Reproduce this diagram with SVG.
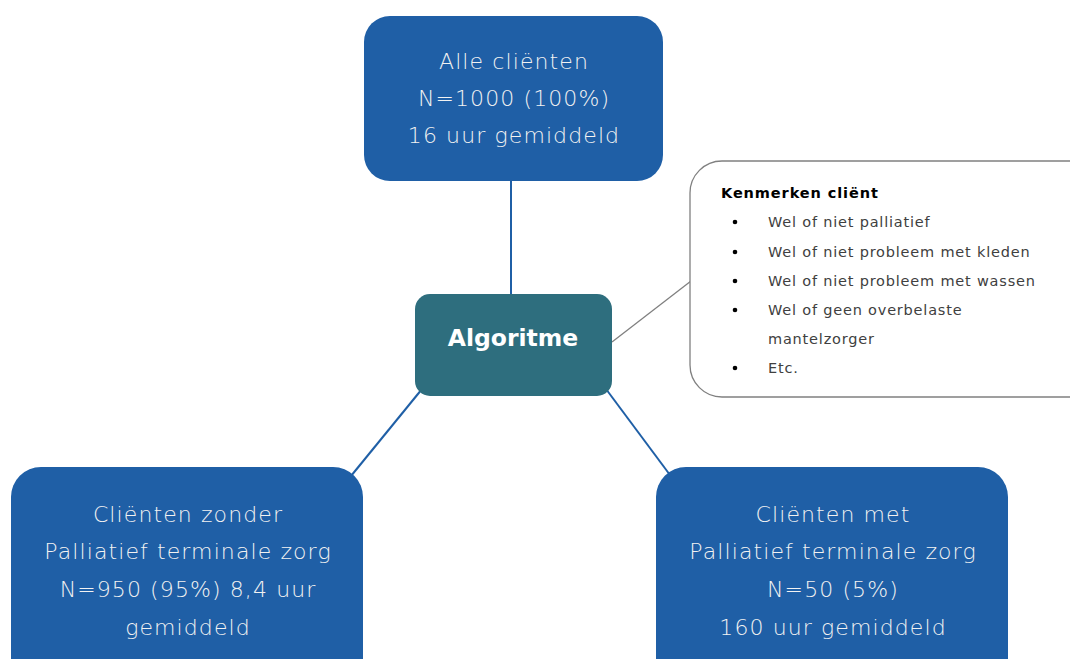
<svg xmlns="http://www.w3.org/2000/svg" width="1070" height="659" viewBox="0 0 1070 659">
<style>
.box{fill:#1F5FA6;}
.alg{fill:#2E6E7E;}
.t{font-family:"DejaVu Sans",Verdana,sans-serif;font-weight:200;font-size:22px;letter-spacing:1.1px;fill:#F2F2F2;text-anchor:middle;}
.tb{font-family:"DejaVu Sans",Verdana,sans-serif;font-weight:bold;font-size:23.5px;fill:#FFFFFF;text-anchor:middle;}
.conn{stroke:#1F5FA6;stroke-width:2;fill:none;}
.call{fill:#FFFFFF;stroke:#808080;stroke-width:1.3;}
.ch{font-family:"DejaVu Sans",Verdana,sans-serif;font-weight:bold;font-size:14.5px;letter-spacing:0.9px;fill:#000000;}
.cl{font-family:"DejaVu Sans",Verdana,sans-serif;font-size:14.5px;letter-spacing:0.8px;fill:#404040;}
</style>
<rect width="1070" height="659" fill="#FFFFFF"/>
<g id="connectors">
<line class="conn" x1="511" y1="181" x2="511" y2="295"/>
<line class="conn" x1="422" y1="389" x2="351" y2="476"/>
<line class="conn" x1="606" y1="389" x2="670" y2="475"/>
<line x1="612" y1="342" x2="691" y2="281" stroke="#808080" stroke-width="1.3"/>
</g>
<g id="node-alle">
<rect class="box" x="364" y="16" width="299" height="165" rx="26"/>
<text class="t" x="514" y="69">Alle cliënten</text>
<text class="t" x="514" y="106">N=1000 (100%)</text>
<text class="t" x="514" y="143">16 uur gemiddeld</text>
</g>
<g id="node-algoritme">
<rect class="alg" x="415" y="294" width="197" height="102" rx="15"/>
<text class="tb" x="513" y="346">Algoritme</text>
</g>
<g id="node-kenmerken">
<rect class="call" x="690" y="161" width="420" height="236" rx="32"/>
<text class="ch" x="721" y="198">Kenmerken cliënt</text>
<g class="cl">
<circle cx="735" cy="222" r="2.3" fill="#000"/>
<text x="768" y="227">Wel of niet palliatief</text>
<circle cx="735" cy="252" r="2.3" fill="#000"/>
<text x="768" y="257">Wel of niet probleem met kleden</text>
<circle cx="735" cy="281" r="2.3" fill="#000"/>
<text x="768" y="286">Wel of niet probleem met wassen</text>
<circle cx="735" cy="310" r="2.3" fill="#000"/>
<text x="768" y="315">Wel of geen overbelaste</text>
<text x="768" y="344">mantelzorger</text>
<circle cx="735" cy="368" r="2.3" fill="#000"/>
<text x="768" y="373">Etc.</text>
</g>
</g>
<g id="node-zonder">
<rect class="box" x="11" y="467" width="352" height="230" rx="30"/>
<text class="t" x="188" y="522">Cliënten zonder</text>
<text class="t" x="188" y="559">Palliatief terminale zorg</text>
<text class="t" x="188" y="597">N=950 (95%) 8,4 uur</text>
<text class="t" x="188" y="635">gemiddeld</text>
</g>
<g id="node-met">
<rect class="box" x="656" y="467" width="352" height="230" rx="30"/>
<text class="t" x="833" y="522">Cliënten met</text>
<text class="t" x="833" y="559">Palliatief terminale zorg</text>
<text class="t" x="833" y="597">N=50 (5%)</text>
<text class="t" x="833" y="635">160 uur gemiddeld</text>
</g>
</svg>
